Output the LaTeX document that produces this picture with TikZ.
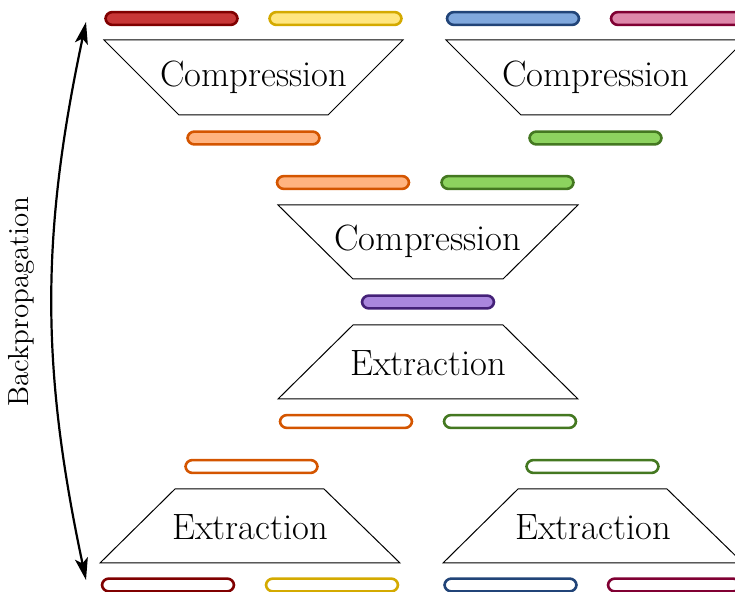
\documentclass[tikz,border=0pt]{standalone}
\usetikzlibrary{arrows.meta}
% palette: fill / border pairs
\definecolor{redF}{HTML}{C83737}\definecolor{redD}{HTML}{800000}
\definecolor{yelF}{HTML}{FFE680}\definecolor{yelD}{HTML}{D4AA00}
\definecolor{bluF}{HTML}{80A8DD}\definecolor{bluD}{HTML}{214478}
\definecolor{pnkF}{HTML}{DE87AA}\definecolor{pnkD}{HTML}{800033}
\definecolor{orgF}{HTML}{FFB380}\definecolor{orgD}{HTML}{D45500}
\definecolor{grnF}{HTML}{8DD35F}\definecolor{grnD}{HTML}{447821}
\definecolor{purF}{HTML}{AA87DE}\definecolor{purD}{HTML}{442178}
\begin{document}
\begin{tikzpicture}[x=0.5pt,y=-0.5pt,
  pill/.style={draw=#1D, fill=#1F, rectangle, rounded corners=3.4pt,
    minimum width=66pt, minimum height=6.4pt, inner sep=0pt, line width=1.3pt},
  hollow/.style={draw=#1D, fill=white, rectangle, rounded corners=3.4pt,
    minimum width=66pt, minimum height=6.4pt, inner sep=0pt, line width=1.3pt},
  block/.style={draw=black, line width=0.5pt, line join=miter},
  lbl/.style={inner sep=0pt, font=\fontsize{18.3}{22}\selectfont},
  sidelbl/.style={inner sep=0pt, rotate=90, font=\fontsize{14.5}{17}\selectfont}]
\useasboundingbox (0,0) rectangle (735,592);
\clip (0,0) rectangle (735,592);

% inputs
\node[pill=red] (inA) at (171.5,18.5) {};
\node[pill=yel] (inB) at (335.5,18.5) {};
\node[pill=blu] (inC) at (513,18.5) {};
\node[pill=pnk] (inD) at (677,18.5) {};

% first compression stage
\draw[block] (104,40) -- (403,40) -- (328,115) -- (179,115) -- cycle;
\node[lbl] (compL) at (253.5,77) {Compression};
\draw[block] (446,40) -- (745,40) -- (670,115) -- (521,115) -- cycle;
\node[lbl] (compR) at (595.5,77) {Compression};
\node[pill=org] (midA) at (253.5,138) {};
\node[pill=grn] (midB) at (595.5,138) {};

% second compression stage
\node[pill=org] (midA2) at (343,182.5) {};
\node[pill=grn] (midB2) at (507.5,182.5) {};
\draw[block] (278,205) -- (578,205) -- (503,279) -- (353,279) -- cycle;
\node[lbl] (compM) at (428,241) {Compression};
\node[pill=pur] (code) at (428,302) {};

% first extraction stage
\draw[block] (353,325) -- (503,325) -- (578,399) -- (278,399) -- cycle;
\node[lbl] (extM) at (428,363) {Extraction};
\node[hollow=org] (recA) at (346,421.5) {};
\node[hollow=grn] (recB) at (510,421.5) {};

% second extraction stage
\node[hollow=org] (recA2) at (251.5,466.5) {};
\node[hollow=grn] (recB2) at (592.5,466.5) {};
\draw[block] (175,489) -- (324,489) -- (400,563) -- (100,563) -- cycle;
\node[lbl] (extL) at (250,527) {Extraction};
\draw[block] (518,489) -- (667,489) -- (743,563) -- (443,563) -- cycle;
\node[lbl] (extR) at (593,527) {Extraction};

% outputs
\node[hollow=red] (outA) at (168,585) {};
\node[hollow=yel] (outB) at (332,585) {};
\node[hollow=blu] (outC) at (510.5,585) {};
\node[hollow=pnk] (outD) at (674,585) {};

% training signal
\coordinate (bpTop) at (86,22);
\coordinate (bpBot) at (86,580);
\draw[line width=1.1pt, {Stealth[length=11pt,width=6.5pt,inset=2.5pt]}-{Stealth[length=11pt,width=6.5pt,inset=2.5pt]}]
  (bpTop) to[bend right=12] (bpBot);
\node[sidelbl] (bp) at (21,302) {Backpropagation};
\end{tikzpicture}
\end{document}
